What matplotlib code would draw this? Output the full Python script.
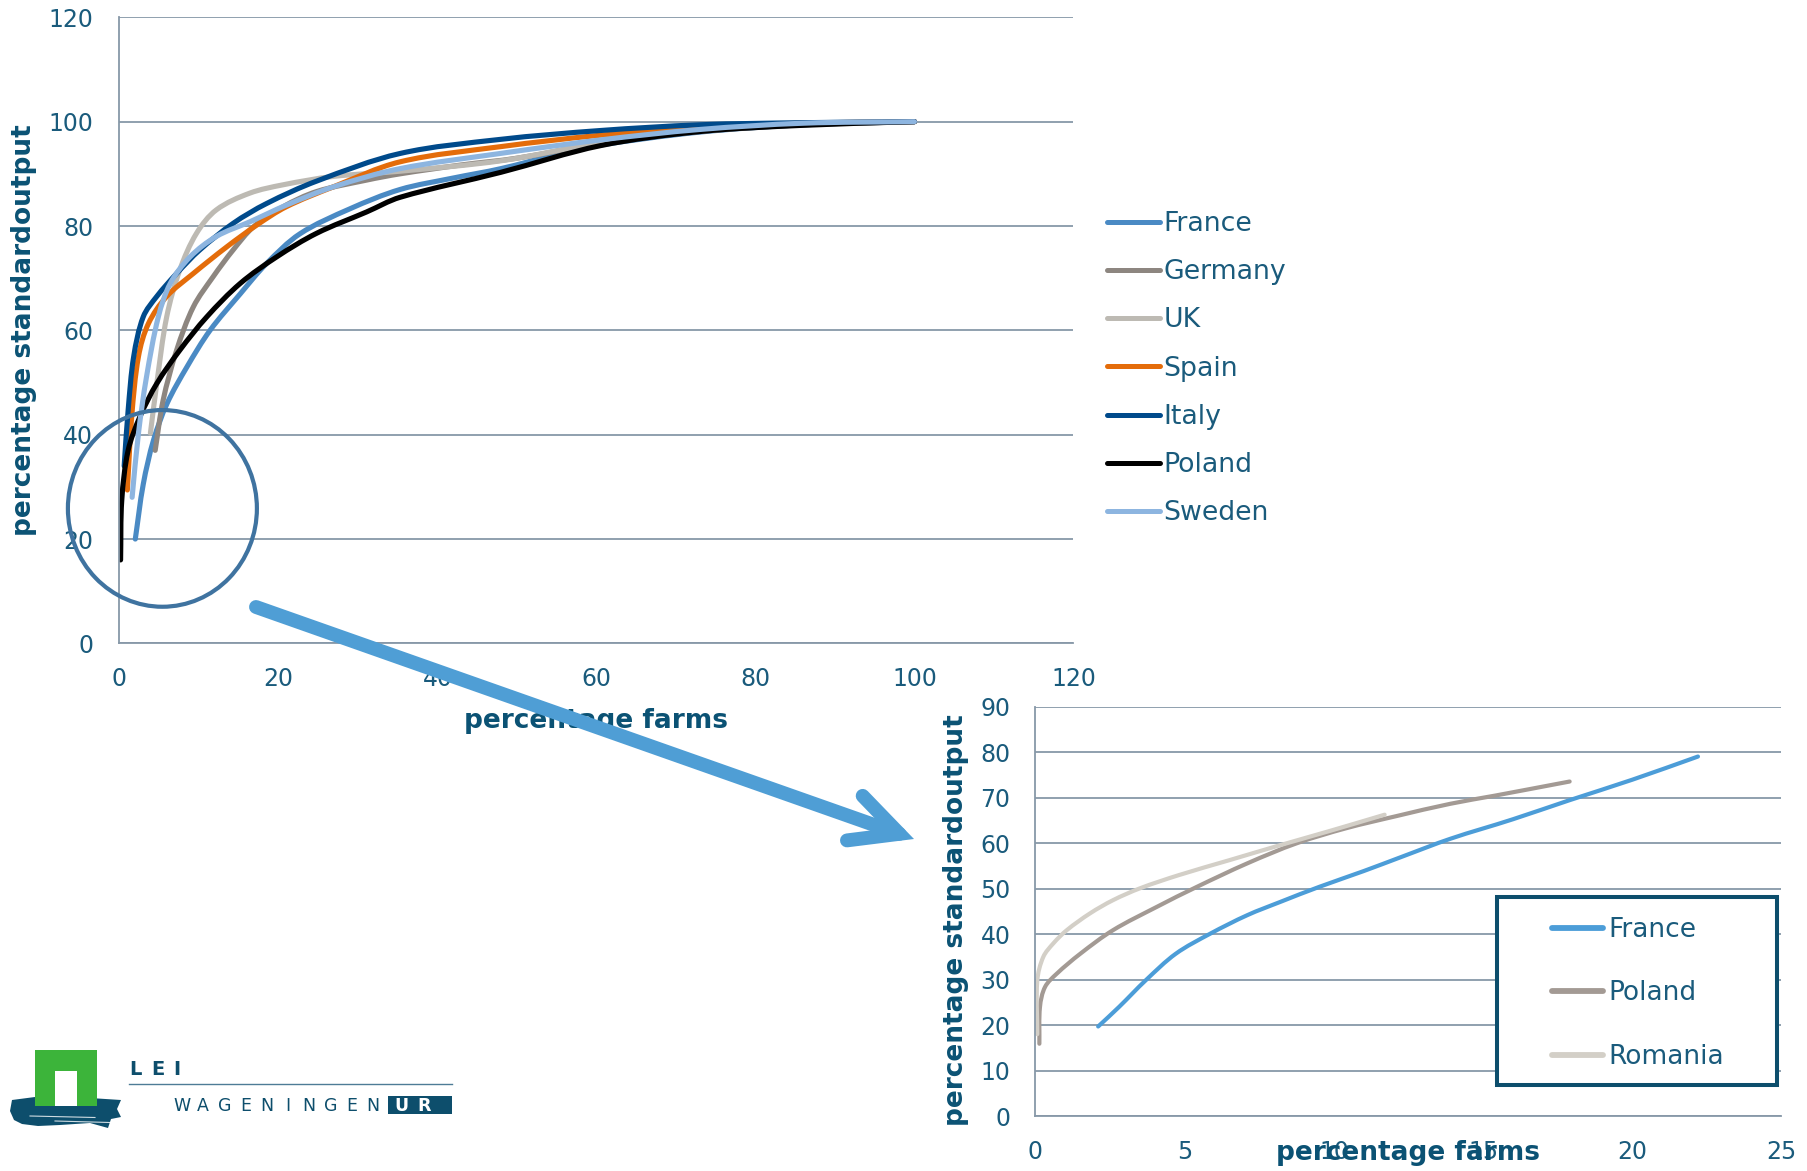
import numpy as np
import matplotlib
matplotlib.use('Agg')
import matplotlib.pyplot as plt
from matplotlib.patches import Ellipse, Rectangle, Polygon, FancyArrowPatch, PathPatch
from matplotlib.path import Path
from matplotlib.lines import Line2D

# cumulative share of standard output vs share of farms, per country
countries = ['France', 'Germany', 'UK', 'Spain', 'Italy', 'Poland', 'Sweden']
france_x = [2, 3, 4.3, 6, 8.5, 11.4, 15.2, 18.5, 22.7, 29, 35.3, 42, 48, 55, 60, 73, 86, 100]
france_y = [20, 30.5, 39, 46, 53, 60, 67, 72.8, 78.5, 83.3, 87, 89.2, 91, 93.7, 95.4, 98, 99.4, 100]
germany_x = [4.5, 5.5, 7.2, 9.3, 11.8, 14.3, 16.9, 20.6, 24.8, 31.1, 35.3, 43, 50, 60.5, 73, 86, 100]
germany_y = [37, 46.6, 56.2, 64.5, 70.3, 75.4, 79.9, 83.7, 86.6, 88.8, 90, 91.7, 93, 95.8, 98.1, 99.4, 100]
uk_x = [3.9, 4.7, 5.95, 7.6, 9.7, 12.2, 16.4, 20.6, 26.9, 35.3, 48, 60, 73, 86, 100]
uk_y = [40.3, 49.8, 62.6, 71.6, 78.6, 83.1, 86.3, 87.9, 89.5, 90.5, 92.5, 95.8, 98.2, 99.5, 100]
spain_x = [1, 1.55, 2.4, 3.65, 5.95, 9.3, 13.5, 17.3, 21, 26.9, 35.3, 47.9, 60.5, 73, 86, 100]
spain_y = [29.4, 43.5, 55, 61.3, 66.5, 70.9, 76, 80.2, 83.7, 87.5, 92.3, 95.2, 97.4, 98.9, 99.7, 100]
italy_x = [0.6, 1.1, 1.8, 3, 4.7, 7.2, 10.1, 14.3, 18.5, 24.8, 35.3, 47.9, 60.5, 73, 86, 100]
italy_y = [34, 44.7, 55, 62.6, 66.5, 70.9, 75.4, 80.5, 84.3, 88.6, 93.9, 96.6, 98.3, 99.4, 99.8, 100]
poland_x = [0.15, 0.3, 1.1, 2.6, 4.7, 7.6, 11, 15.2, 19.8, 24.8, 31.1, 35.3, 48, 60.5, 73, 86, 100]
poland_y = [16, 27.5, 37, 43.5, 49.8, 56.2, 62.6, 69, 74.1, 78.6, 82.7, 85.5, 90.3, 95.4, 98.1, 99.3, 100]
sweden_x = [1.6, 2.4, 3.4, 4.9, 6.4, 8.9, 12.2, 16.4, 21, 26.9, 35.3, 47.9, 60.5, 73, 86, 100]
sweden_y = [28, 40.3, 51, 62.6, 69, 74.1, 78, 80.8, 84, 87.5, 91, 93.9, 96.5, 98.5, 99.7, 100]

# zoom on the first farms
zoom_countries = ['France', 'Poland', 'Romania']
zfrance_x = [2.1, 2.8, 3.7, 4.7, 5.85, 7.1, 8.2, 9.5, 11, 12.3, 13.9, 16, 17.9, 20, 22.2]
zfrance_y = [19.7, 24, 29.9, 35.7, 40.1, 44.2, 47.1, 50.4, 53.9, 57.1, 61, 65.3, 69.5, 74, 79.1]
zpoland_x = [0.13, 0.15, 0.32, 0.71, 1.5, 2.6, 4.06, 5.4, 7.1, 8.75, 10.4, 12.1, 13.9, 15.4, 17.9]
zpoland_y = [15.9, 24, 28.4, 31.3, 35.7, 40.9, 46, 50.4, 55.6, 60, 63.3, 66, 68.7, 70.5, 73.6]
zromania_x = [0.06, 0.06, 0.26, 0.6, 1.05, 1.83, 2.6, 3.5, 4.8, 6.5, 8.2, 9.9, 11.7]
zromania_y = [18, 29.8, 35, 38, 40.9, 44.6, 47.5, 50.1, 53, 56.3, 59.6, 62.8, 66.3]

main_series = [(france_x, france_y), (germany_x, germany_y), (uk_x, uk_y), (spain_x, spain_y),
               (italy_x, italy_y), (poland_x, poland_y), (sweden_x, sweden_y)]
main_colors = ['#4a8ac4', '#8d8680', '#bdbab3', '#e46c0a', '#004a8b', '#000000', '#8db5e0']
zoom_series = [(zfrance_x, zfrance_y), (zpoland_x, zpoland_y), (zromania_x, zromania_y)]
zoom_colors = ['#4c9dd8', '#a39a94', '#d3cfc7']

TICK = '#1a5b7c'
TITLE = '#0b5274'
GRID = '#8798a8'
DARK = '#0d4e6c'

W, H = 1808, 1171
fig = plt.figure(figsize=(W / 100, H / 100), dpi=100)


def fx(x):
    return x / W


def fy(y):
    return 1 - y / H


def style_axes(ax):
    ax.set_axisbelow(True)
    ax.grid(axis='y', color=GRID, lw=1.3)
    ax.grid(axis='x', visible=False)
    for s in ['top', 'right']:
        ax.spines[s].set_visible(False)
    for s in ['left', 'bottom']:
        ax.spines[s].set_color(GRID)
        ax.spines[s].set_linewidth(1.3)
    ax.tick_params(length=0, labelsize=17, colors=TICK)
    ax.tick_params(axis='x', pad=17)
    ax.tick_params(axis='y', pad=19)


def smooth_line(ax, x, y, color, lw):
    # smoothed line like a spreadsheet chart: cubic bezier through the points,
    # tangents taken in screen space so both axes count the same
    p = ax.transData.transform(np.column_stack([x, y]))
    n = len(p)
    d = np.zeros_like(p)
    for i in range(n):
        a = p[max(i - 1, 0)]
        b = p[min(i + 1, n - 1)]
        v = b - a
        d[i] = v / np.hypot(*v)
    verts = [p[0]]
    codes = [Path.MOVETO]
    for i in range(n - 1):
        L = np.hypot(*(p[i + 1] - p[i])) / 3
        verts += [p[i] + d[i] * L, p[i + 1] - d[i + 1] * L, p[i + 1]]
        codes += [Path.CURVE4] * 3
    verts = ax.transData.inverted().transform(np.array(verts))
    ax.add_patch(PathPatch(Path(verts, codes), fill=False, ec=color, lw=lw,
                           capstyle='round', joinstyle='round', zorder=2))


# main chart
ax = fig.add_axes([fx(119.4), fy(643.4), fx(1073.5 - 119.4), (643.4 - 17.3) / H])
ax.set_xlim(0, 120)
ax.set_ylim(0, 120)
ax.set_xticks(range(0, 121, 20))
ax.set_yticks(range(0, 121, 20))
style_axes(ax)
for (x, y), c in zip(main_series, main_colors):
    smooth_line(ax, x, y, c, 3.7)
ax.set_xlabel('percentage farms', fontsize=19, fontweight='bold', color=TITLE, va='center')
ax.xaxis.set_label_coords(0.5, -0.124)
ax.set_ylabel('percentage standardoutput', fontsize=19, fontweight='bold', color=TITLE, va='center')
ax.yaxis.set_label_coords(-0.100, 0.5)
handles = [Line2D([], [], color=c, lw=3.6, solid_capstyle='round') for c in main_colors]
ax.legend(handles, countries, loc='upper left', bbox_to_anchor=(fx(1107), fy(211)),
          bbox_transform=fig.transFigure, frameon=False, fontsize=19.3, labelcolor=TICK,
          handlelength=1.96, handletextpad=0.15, labelspacing=0.83, borderpad=0, borderaxespad=0)

# zoomed chart
ax2 = fig.add_axes([fx(1035.5), fy(1116), fx(1781.5 - 1035.5), (1116 - 707) / H])
ax2.set_xlim(0, 25)
ax2.set_ylim(0, 90)
ax2.set_xticks(range(0, 26, 5))
ax2.set_yticks(range(0, 91, 10))
style_axes(ax2)
ax2.tick_params(axis='y', pad=18)
for (x, y), c in zip(zoom_series, zoom_colors):
    smooth_line(ax2, x, y, c, 3.0)
ax2.set_xlabel('percentage farms', fontsize=19, fontweight='bold', color=TITLE, va='center')
ax2.xaxis.set_label_coords(0.5, -0.0905)
ax2.set_ylabel('percentage standardoutput', fontsize=19, fontweight='bold', color=TITLE, va='center')
ax2.yaxis.set_label_coords(-0.107, 0.479)
ax2.add_patch(Rectangle((0.6186, 0.0758), 0.3754, 0.4597, transform=ax2.transAxes,
                        facecolor='white', edgecolor=DARK, lw=2.9, zorder=3))
handles2 = [Line2D([], [], color=c, lw=4.2, solid_capstyle='round') for c in zoom_colors]
leg2 = ax2.legend(handles2, zoom_countries, loc='upper left', bbox_to_anchor=(fx(1552), fy(917)),
                  bbox_transform=fig.transFigure, frameon=False, fontsize=19, labelcolor=TICK,
                  handlelength=1.95, handletextpad=0.2, labelspacing=1.42, borderpad=0, borderaxespad=0)
leg2.set_zorder(5)

# circle around the start of the curves and the arrow to the zoom
fig.add_artist(Ellipse((fx(162.4), fy(508.4)), 189 / W, 196.7 / H, transform=fig.transFigure,
                       fill=False, ec='#3f73a0', lw=3.0))
fig.add_artist(FancyArrowPatch((fx(256), fy(607)), (fx(914), fy(839)), transform=fig.transFigure,
                               arrowstyle='->,head_length=34,head_width=17', mutation_scale=1,
                               lw=10, color='#4f9ed5', shrinkA=0, shrinkB=0,
                               capstyle='round', joinstyle='miter'))

# LEI Wageningen UR logo
wave = [(12, 1100), (35, 1097), (60, 1101), (90, 1098), (121, 1100), (117, 1109), (121, 1117),
        (111, 1119), (108, 1128), (90, 1123), (60, 1125), (38, 1126), (22, 1124), (14, 1120), (10, 1111)]
fig.add_artist(Polygon([(fx(a), fy(b)) for a, b in wave], closed=True, transform=fig.transFigure,
                       fc=DARK, ec='none'))
for a0, a1, b in [(30, 95, 1116), (55, 110, 1121)]:
    fig.add_artist(Line2D([fx(a0), fx(a1)], [fy(b), fy(b + 1.5)], transform=fig.transFigure,
                          color='white', lw=0.8, alpha=0.8))
fig.add_artist(Rectangle((fx(35), fy(1106)), 61.7 / W, 56 / H, transform=fig.transFigure,
                         fc='#3cb43a', ec='none'))
fig.add_artist(Rectangle((fx(55), fy(1106)), 21.7 / W, 35.3 / H, transform=fig.transFigure,
                         fc='white', ec='none'))
for i, ch in enumerate('LEI'):
    fig.text(fx(129 + i * 22), fy(1075), ch, fontsize=14, fontweight='bold', color=DARK,
             ha='left', va='baseline')
fig.add_artist(Line2D([fx(129), fx(452)], [fy(1084.3), fy(1084.3)], transform=fig.transFigure,
                      color='#4d7c96', lw=1.0))
for i, ch in enumerate('WAGENINGEN'):
    fig.text(fx(182 + i * 21.2), fy(1111), ch, fontsize=12.5, color=DARK,
             ha='center', va='baseline')
fig.add_artist(Rectangle((fx(388), fy(1114)), 64 / W, 18.3 / H, transform=fig.transFigure,
                         fc=DARK, ec='none'))
for i, ch in enumerate('UR'):
    fig.text(fx(401 + i * 23), fy(1111), ch, fontsize=12.5, fontweight='bold', color='white',
             ha='center', va='baseline')

fig.savefig('out.png', dpi=100)
